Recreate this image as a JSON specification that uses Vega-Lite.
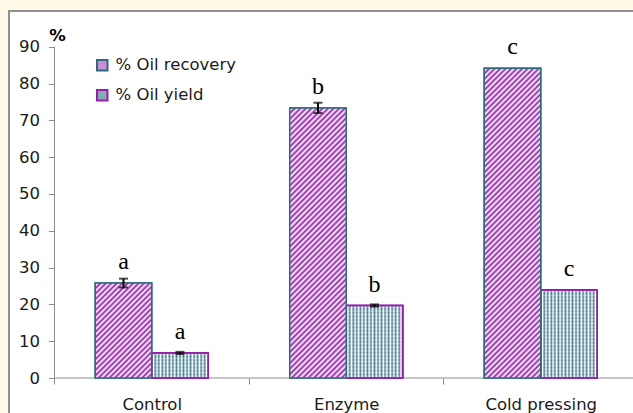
{
  "$schema": "https://vega.github.io/schema/vega-lite/v6.json",
  "width": 640,
  "height": 420,
  "autosize": {"type": "none"},
  "padding": {"left": 9, "top": 11, "right": 0, "bottom": 0},
  "background": "#fffae8",
  "view": {"fill": "#ffffff", "stroke": "#8f8f8f", "strokeWidth": 2},
  "data": {
    "values": [
      {"treatment": "Control", "measure": "% Oil recovery", "value": 25.8, "sd": 1.2, "letter": "a"},
      {"treatment": "Control", "measure": "% Oil yield", "value": 6.8, "sd": 0.3, "letter": "a"},
      {"treatment": "Enzyme", "measure": "% Oil recovery", "value": 73.4, "sd": 1.4, "letter": "b"},
      {"treatment": "Enzyme", "measure": "% Oil yield", "value": 19.7, "sd": 0.3, "letter": "b"},
      {"treatment": "Cold pressing", "measure": "% Oil recovery", "value": 84.2, "sd": 0, "letter": "c"},
      {"treatment": "Cold pressing", "measure": "% Oil yield", "value": 23.9, "sd": 0, "letter": "c"}
    ]
  },
  "layer": [
    {
      "mark": {"type": "bar", "strokeWidth": 1.5},
      "encoding": {
        "x": {
          "field": "treatment",
          "type": "nominal",
          "title": null,
          "scale": {"domain": ["Control", "Enzyme", "Cold pressing"], "paddingInner": 0, "paddingOuter": 0.14524, "align": 0.805},
          "axis": {"title": null, "offset": -53, "domain": false, "tickBand": "extent", "tickSize": 6, "tickColor": "#8c8c8c", "labelAngle": 0, "labelFont": "DejaVu Sans", "labelFontSize": 16.5, "labelColor": "#1a1a1a", "labelPadding": 12}
        },
        "y": {
          "field": "value",
          "type": "quantitative",
          "title": "%",
          "scale": {"domain": [-14.402, 99.728], "nice": false, "zero": false},
          "axis": {"title": "%", "titleAngle": 0, "titleX": 2.5, "titleY": 24, "titleAlign": "center", "titleBaseline": "middle", "titleFont": "DejaVu Sans", "titleFontSize": 16.5, "titleFontWeight": "bold", "titleColor": "#000000", "values": [0, 10, 20, 30, 40, 50, 60, 70, 80, 90], "offset": -45.5, "domain": false, "grid": false, "tickSize": 6, "tickColor": "#8c8c8c", "labelFont": "DejaVu Sans", "labelFontSize": 16.5, "labelColor": "#1a1a1a", "labelPadding": 9}
        },
        "xOffset": {"field": "measure", "type": "nominal", "scale": {"domain": ["% Oil recovery", "% Oil yield"], "paddingInner": 0, "paddingOuter": 0.7212}},
        "y2": {"datum": 0},
        "fill": {
          "field": "measure",
          "type": "nominal",
          "scale": {"domain": ["% Oil recovery", "% Oil yield"], "range": ["#ca8ed4", "#86a9b4"]},
          "legend": {"orient": "none", "legendX": 85, "legendY": 46, "title": null, "symbolType": "square", "symbolSize": 110, "symbolStrokeWidth": 2, "labelFont": "DejaVu Sans", "labelFontSize": 16.5, "labelColor": "#1a1a1a", "rowPadding": 11, "labelOffset": 5, "padding": 0}
        },
        "stroke": {
          "field": "measure",
          "type": "nominal",
          "scale": {"domain": ["% Oil recovery", "% Oil yield"], "range": ["#2d6b7c", "#961eaa"]}
        }
      }
    },
    {
      "transform": [{"filter": "datum.treatment === 'Control' && datum.measure === '% Oil recovery'"}],
      "mark": {"type": "rule", "color": "#8c8c8c", "strokeWidth": 1},
      "encoding": {
        "x": {"field": "treatment", "type": "nominal", "title": null, "bandPosition": 0},
        "x2": {"value": "width"},
        "y": {"datum": 0, "type": "quantitative", "title": "%"}
      }
    },
    {
      "transform": [{"filter": "datum.treatment === 'Control' && datum.measure === '% Oil recovery'"}],
      "mark": {"type": "rule", "color": "#8c8c8c", "strokeWidth": 1},
      "encoding": {
        "x": {"field": "treatment", "type": "nominal", "title": null, "bandPosition": 0},
        "y": {"datum": 0, "type": "quantitative", "title": "%"},
        "y2": {"datum": 90}
      }
    },
    {
      "transform": [{"filter": "datum.measure === '% Oil yield'"}],
      "mark": {
        "type": "bar",
        "stroke": "#961eaa",
        "strokeWidth": 1.5,
        "fill": {
          "gradient": "linear", "x1": 0, "y1": 0, "x2": 1, "y2": 0,
          "stops": [
            {"offset": 0, "color": "#2b6a80"}, {"offset": 0.03125, "color": "#ffffff"}, {"offset": 0.0625, "color": "#2b6a80"}, {"offset": 0.09375, "color": "#ffffff"},
            {"offset": 0.125, "color": "#2b6a80"}, {"offset": 0.15625, "color": "#ffffff"}, {"offset": 0.1875, "color": "#2b6a80"}, {"offset": 0.21875, "color": "#ffffff"},
            {"offset": 0.25, "color": "#2b6a80"}, {"offset": 0.28125, "color": "#ffffff"}, {"offset": 0.3125, "color": "#2b6a80"}, {"offset": 0.34375, "color": "#ffffff"},
            {"offset": 0.375, "color": "#2b6a80"}, {"offset": 0.40625, "color": "#ffffff"}, {"offset": 0.4375, "color": "#2b6a80"}, {"offset": 0.46875, "color": "#ffffff"},
            {"offset": 0.5, "color": "#2b6a80"}, {"offset": 0.53125, "color": "#ffffff"}, {"offset": 0.5625, "color": "#2b6a80"}, {"offset": 0.59375, "color": "#ffffff"},
            {"offset": 0.625, "color": "#2b6a80"}, {"offset": 0.65625, "color": "#ffffff"}, {"offset": 0.6875, "color": "#2b6a80"}, {"offset": 0.71875, "color": "#ffffff"},
            {"offset": 0.75, "color": "#2b6a80"}, {"offset": 0.78125, "color": "#ffffff"}, {"offset": 0.8125, "color": "#2b6a80"}, {"offset": 0.84375, "color": "#ffffff"},
            {"offset": 0.875, "color": "#2b6a80"}, {"offset": 0.90625, "color": "#ffffff"}, {"offset": 0.9375, "color": "#2b6a80"}, {"offset": 0.96875, "color": "#ffffff"},
            {"offset": 1, "color": "#2b6a80"}
          ]
        }
      },
      "encoding": {
        "x": {"field": "treatment", "type": "nominal", "title": null},
        "y": {"field": "value", "type": "quantitative", "title": "%"},
        "xOffset": {"field": "measure", "type": "nominal"},
        "y2": {"datum": 0}
      }
    },
    {
      "transform": [{"filter": "datum.treatment === 'Control' && datum.measure === '% Oil yield'"}],
      "mark": {
        "type": "bar",
        "stroke": "#961eaa",
        "strokeWidth": 1.5,
        "fill": {
          "gradient": "linear", "x1": 0, "y1": 0, "x2": 0, "y2": 1,
          "stops": [
            {"offset": 0, "color": "rgba(255,255,255,0)"}, {"offset": 0.0714, "color": "rgba(255,255,255,0.35)"}, {"offset": 0.1429, "color": "rgba(255,255,255,0)"}, {"offset": 0.2143, "color": "rgba(255,255,255,0.35)"},
            {"offset": 0.2857, "color": "rgba(255,255,255,0)"}, {"offset": 0.3571, "color": "rgba(255,255,255,0.35)"}, {"offset": 0.4286, "color": "rgba(255,255,255,0)"}, {"offset": 0.5, "color": "rgba(255,255,255,0.35)"},
            {"offset": 0.5714, "color": "rgba(255,255,255,0)"}, {"offset": 0.6429, "color": "rgba(255,255,255,0.35)"}, {"offset": 0.7143, "color": "rgba(255,255,255,0)"}, {"offset": 0.7857, "color": "rgba(255,255,255,0.35)"},
            {"offset": 0.8571, "color": "rgba(255,255,255,0)"}, {"offset": 0.9286, "color": "rgba(255,255,255,0.35)"}, {"offset": 1, "color": "rgba(255,255,255,0)"}
          ]
        }
      },
      "encoding": {
        "x": {"field": "treatment", "type": "nominal", "title": null},
        "y": {"field": "value", "type": "quantitative", "title": "%"},
        "xOffset": {"field": "measure", "type": "nominal"},
        "y2": {"datum": 0}
      }
    },
    {
      "transform": [{"filter": "datum.treatment === 'Enzyme' && datum.measure === '% Oil yield'"}],
      "mark": {
        "type": "bar",
        "stroke": "#961eaa",
        "strokeWidth": 1.5,
        "fill": {
          "gradient": "linear", "x1": 0, "y1": 0, "x2": 0, "y2": 1,
          "stops": [
            {"offset": 0, "color": "rgba(255,255,255,0)"}, {"offset": 0.025, "color": "rgba(255,255,255,0.35)"}, {"offset": 0.05, "color": "rgba(255,255,255,0)"}, {"offset": 0.075, "color": "rgba(255,255,255,0.35)"},
            {"offset": 0.1, "color": "rgba(255,255,255,0)"}, {"offset": 0.125, "color": "rgba(255,255,255,0.35)"}, {"offset": 0.15, "color": "rgba(255,255,255,0)"}, {"offset": 0.175, "color": "rgba(255,255,255,0.35)"},
            {"offset": 0.2, "color": "rgba(255,255,255,0)"}, {"offset": 0.225, "color": "rgba(255,255,255,0.35)"}, {"offset": 0.25, "color": "rgba(255,255,255,0)"}, {"offset": 0.275, "color": "rgba(255,255,255,0.35)"},
            {"offset": 0.3, "color": "rgba(255,255,255,0)"}, {"offset": 0.325, "color": "rgba(255,255,255,0.35)"}, {"offset": 0.35, "color": "rgba(255,255,255,0)"}, {"offset": 0.375, "color": "rgba(255,255,255,0.35)"},
            {"offset": 0.4, "color": "rgba(255,255,255,0)"}, {"offset": 0.425, "color": "rgba(255,255,255,0.35)"}, {"offset": 0.45, "color": "rgba(255,255,255,0)"}, {"offset": 0.475, "color": "rgba(255,255,255,0.35)"},
            {"offset": 0.5, "color": "rgba(255,255,255,0)"}, {"offset": 0.525, "color": "rgba(255,255,255,0.35)"}, {"offset": 0.55, "color": "rgba(255,255,255,0)"}, {"offset": 0.575, "color": "rgba(255,255,255,0.35)"},
            {"offset": 0.6, "color": "rgba(255,255,255,0)"}, {"offset": 0.625, "color": "rgba(255,255,255,0.35)"}, {"offset": 0.65, "color": "rgba(255,255,255,0)"}, {"offset": 0.675, "color": "rgba(255,255,255,0.35)"},
            {"offset": 0.7, "color": "rgba(255,255,255,0)"}, {"offset": 0.725, "color": "rgba(255,255,255,0.35)"}, {"offset": 0.75, "color": "rgba(255,255,255,0)"}, {"offset": 0.775, "color": "rgba(255,255,255,0.35)"},
            {"offset": 0.8, "color": "rgba(255,255,255,0)"}, {"offset": 0.825, "color": "rgba(255,255,255,0.35)"}, {"offset": 0.85, "color": "rgba(255,255,255,0)"}, {"offset": 0.875, "color": "rgba(255,255,255,0.35)"},
            {"offset": 0.9, "color": "rgba(255,255,255,0)"}, {"offset": 0.925, "color": "rgba(255,255,255,0.35)"}, {"offset": 0.95, "color": "rgba(255,255,255,0)"}, {"offset": 0.975, "color": "rgba(255,255,255,0.35)"},
            {"offset": 1, "color": "rgba(255,255,255,0)"}
          ]
        }
      },
      "encoding": {
        "x": {"field": "treatment", "type": "nominal", "title": null},
        "y": {"field": "value", "type": "quantitative", "title": "%"},
        "xOffset": {"field": "measure", "type": "nominal"},
        "y2": {"datum": 0}
      }
    },
    {
      "transform": [{"filter": "datum.treatment === 'Cold pressing' && datum.measure === '% Oil yield'"}],
      "mark": {
        "type": "bar",
        "stroke": "#961eaa",
        "strokeWidth": 1.5,
        "fill": {
          "gradient": "linear", "x1": 0, "y1": 0, "x2": 0, "y2": 1,
          "stops": [
            {"offset": 0, "color": "rgba(255,255,255,0)"}, {"offset": 0.02, "color": "rgba(255,255,255,0.35)"}, {"offset": 0.04, "color": "rgba(255,255,255,0)"}, {"offset": 0.06, "color": "rgba(255,255,255,0.35)"},
            {"offset": 0.08, "color": "rgba(255,255,255,0)"}, {"offset": 0.1, "color": "rgba(255,255,255,0.35)"}, {"offset": 0.12, "color": "rgba(255,255,255,0)"}, {"offset": 0.14, "color": "rgba(255,255,255,0.35)"},
            {"offset": 0.16, "color": "rgba(255,255,255,0)"}, {"offset": 0.18, "color": "rgba(255,255,255,0.35)"}, {"offset": 0.2, "color": "rgba(255,255,255,0)"}, {"offset": 0.22, "color": "rgba(255,255,255,0.35)"},
            {"offset": 0.24, "color": "rgba(255,255,255,0)"}, {"offset": 0.26, "color": "rgba(255,255,255,0.35)"}, {"offset": 0.28, "color": "rgba(255,255,255,0)"}, {"offset": 0.3, "color": "rgba(255,255,255,0.35)"},
            {"offset": 0.32, "color": "rgba(255,255,255,0)"}, {"offset": 0.34, "color": "rgba(255,255,255,0.35)"}, {"offset": 0.36, "color": "rgba(255,255,255,0)"}, {"offset": 0.38, "color": "rgba(255,255,255,0.35)"},
            {"offset": 0.4, "color": "rgba(255,255,255,0)"}, {"offset": 0.42, "color": "rgba(255,255,255,0.35)"}, {"offset": 0.44, "color": "rgba(255,255,255,0)"}, {"offset": 0.46, "color": "rgba(255,255,255,0.35)"},
            {"offset": 0.48, "color": "rgba(255,255,255,0)"}, {"offset": 0.5, "color": "rgba(255,255,255,0.35)"}, {"offset": 0.52, "color": "rgba(255,255,255,0)"}, {"offset": 0.54, "color": "rgba(255,255,255,0.35)"},
            {"offset": 0.56, "color": "rgba(255,255,255,0)"}, {"offset": 0.58, "color": "rgba(255,255,255,0.35)"}, {"offset": 0.6, "color": "rgba(255,255,255,0)"}, {"offset": 0.62, "color": "rgba(255,255,255,0.35)"},
            {"offset": 0.64, "color": "rgba(255,255,255,0)"}, {"offset": 0.66, "color": "rgba(255,255,255,0.35)"}, {"offset": 0.68, "color": "rgba(255,255,255,0)"}, {"offset": 0.7, "color": "rgba(255,255,255,0.35)"},
            {"offset": 0.72, "color": "rgba(255,255,255,0)"}, {"offset": 0.74, "color": "rgba(255,255,255,0.35)"}, {"offset": 0.76, "color": "rgba(255,255,255,0)"}, {"offset": 0.78, "color": "rgba(255,255,255,0.35)"},
            {"offset": 0.8, "color": "rgba(255,255,255,0)"}, {"offset": 0.82, "color": "rgba(255,255,255,0.35)"}, {"offset": 0.84, "color": "rgba(255,255,255,0)"}, {"offset": 0.86, "color": "rgba(255,255,255,0.35)"},
            {"offset": 0.88, "color": "rgba(255,255,255,0)"}, {"offset": 0.9, "color": "rgba(255,255,255,0.35)"}, {"offset": 0.92, "color": "rgba(255,255,255,0)"}, {"offset": 0.94, "color": "rgba(255,255,255,0.35)"},
            {"offset": 0.96, "color": "rgba(255,255,255,0)"}, {"offset": 0.98, "color": "rgba(255,255,255,0.35)"}, {"offset": 1, "color": "rgba(255,255,255,0)"}
          ]
        }
      },
      "encoding": {
        "x": {"field": "treatment", "type": "nominal", "title": null},
        "y": {"field": "value", "type": "quantitative", "title": "%"},
        "xOffset": {"field": "measure", "type": "nominal"},
        "y2": {"datum": 0}
      }
    },
    {
      "transform": [{"filter": "datum.treatment === 'Control' && datum.measure === '% Oil recovery'"}],
      "mark": {
        "type": "bar",
        "stroke": "#2d6b7c",
        "strokeWidth": 1.5,
        "fill": {
          "gradient": "linear", "x1": 0, "y1": 0, "x2": 0.701, "y2": 1.1779,
          "stops": [
            {"offset": 0, "color": "#961eaa"}, {"offset": 0.018, "color": "#ffffff"}, {"offset": 0.036, "color": "#961eaa"}, {"offset": 0.054, "color": "#ffffff"},
            {"offset": 0.072, "color": "#961eaa"}, {"offset": 0.09, "color": "#ffffff"}, {"offset": 0.108, "color": "#961eaa"}, {"offset": 0.126, "color": "#ffffff"},
            {"offset": 0.144, "color": "#961eaa"}, {"offset": 0.162, "color": "#ffffff"}, {"offset": 0.18, "color": "#961eaa"}, {"offset": 0.198, "color": "#ffffff"},
            {"offset": 0.216, "color": "#961eaa"}, {"offset": 0.234, "color": "#ffffff"}, {"offset": 0.252, "color": "#961eaa"}, {"offset": 0.27, "color": "#ffffff"},
            {"offset": 0.288, "color": "#961eaa"}, {"offset": 0.306, "color": "#ffffff"}, {"offset": 0.324, "color": "#961eaa"}, {"offset": 0.342, "color": "#ffffff"},
            {"offset": 0.36, "color": "#961eaa"}, {"offset": 0.378, "color": "#ffffff"}, {"offset": 0.396, "color": "#961eaa"}, {"offset": 0.414, "color": "#ffffff"},
            {"offset": 0.432, "color": "#961eaa"}, {"offset": 0.45, "color": "#ffffff"}, {"offset": 0.468, "color": "#961eaa"}, {"offset": 0.486, "color": "#ffffff"},
            {"offset": 0.504, "color": "#961eaa"}, {"offset": 0.522, "color": "#ffffff"}, {"offset": 0.54, "color": "#961eaa"}, {"offset": 0.558, "color": "#ffffff"},
            {"offset": 0.576, "color": "#961eaa"}, {"offset": 0.594, "color": "#ffffff"}, {"offset": 0.612, "color": "#961eaa"}, {"offset": 0.63, "color": "#ffffff"},
            {"offset": 0.648, "color": "#961eaa"}, {"offset": 0.666, "color": "#ffffff"}, {"offset": 0.684, "color": "#961eaa"}, {"offset": 0.702, "color": "#ffffff"},
            {"offset": 0.72, "color": "#961eaa"}, {"offset": 0.738, "color": "#ffffff"}, {"offset": 0.756, "color": "#961eaa"}, {"offset": 0.774, "color": "#ffffff"},
            {"offset": 0.792, "color": "#961eaa"}, {"offset": 0.81, "color": "#ffffff"}, {"offset": 0.828, "color": "#961eaa"}, {"offset": 0.846, "color": "#ffffff"},
            {"offset": 0.864, "color": "#961eaa"}, {"offset": 0.882, "color": "#ffffff"}, {"offset": 0.9, "color": "#961eaa"}, {"offset": 0.918, "color": "#ffffff"},
            {"offset": 0.936, "color": "#961eaa"}, {"offset": 0.954, "color": "#ffffff"}, {"offset": 0.972, "color": "#961eaa"}, {"offset": 0.99, "color": "#ffffff"}
          ]
        }
      },
      "encoding": {
        "x": {"field": "treatment", "type": "nominal", "title": null},
        "y": {"field": "value", "type": "quantitative", "title": "%"},
        "xOffset": {"field": "measure", "type": "nominal"},
        "y2": {"datum": 0}
      }
    },
    {
      "transform": [{"filter": "datum.treatment === 'Enzyme' && datum.measure === '% Oil recovery'"}],
      "mark": {
        "type": "bar",
        "stroke": "#2d6b7c",
        "strokeWidth": 1.5,
        "fill": {
          "gradient": "linear", "x1": 0, "y1": 0, "x2": 0.2423, "y2": 1.1585,
          "stops": [
            {"offset": 0, "color": "#961eaa"}, {"offset": 0.0085, "color": "#ffffff"}, {"offset": 0.017, "color": "#961eaa"}, {"offset": 0.0255, "color": "#ffffff"},
            {"offset": 0.034, "color": "#961eaa"}, {"offset": 0.0425, "color": "#ffffff"}, {"offset": 0.051, "color": "#961eaa"}, {"offset": 0.0595, "color": "#ffffff"},
            {"offset": 0.068, "color": "#961eaa"}, {"offset": 0.0765, "color": "#ffffff"}, {"offset": 0.085, "color": "#961eaa"}, {"offset": 0.0935, "color": "#ffffff"},
            {"offset": 0.102, "color": "#961eaa"}, {"offset": 0.1105, "color": "#ffffff"}, {"offset": 0.119, "color": "#961eaa"}, {"offset": 0.1275, "color": "#ffffff"},
            {"offset": 0.136, "color": "#961eaa"}, {"offset": 0.1445, "color": "#ffffff"}, {"offset": 0.153, "color": "#961eaa"}, {"offset": 0.1615, "color": "#ffffff"},
            {"offset": 0.17, "color": "#961eaa"}, {"offset": 0.1785, "color": "#ffffff"}, {"offset": 0.187, "color": "#961eaa"}, {"offset": 0.1955, "color": "#ffffff"},
            {"offset": 0.204, "color": "#961eaa"}, {"offset": 0.2125, "color": "#ffffff"}, {"offset": 0.221, "color": "#961eaa"}, {"offset": 0.2295, "color": "#ffffff"},
            {"offset": 0.238, "color": "#961eaa"}, {"offset": 0.2465, "color": "#ffffff"}, {"offset": 0.255, "color": "#961eaa"}, {"offset": 0.2635, "color": "#ffffff"},
            {"offset": 0.272, "color": "#961eaa"}, {"offset": 0.2805, "color": "#ffffff"}, {"offset": 0.289, "color": "#961eaa"}, {"offset": 0.2975, "color": "#ffffff"},
            {"offset": 0.306, "color": "#961eaa"}, {"offset": 0.3145, "color": "#ffffff"}, {"offset": 0.323, "color": "#961eaa"}, {"offset": 0.3315, "color": "#ffffff"},
            {"offset": 0.34, "color": "#961eaa"}, {"offset": 0.3485, "color": "#ffffff"}, {"offset": 0.357, "color": "#961eaa"}, {"offset": 0.3655, "color": "#ffffff"},
            {"offset": 0.374, "color": "#961eaa"}, {"offset": 0.3825, "color": "#ffffff"}, {"offset": 0.391, "color": "#961eaa"}, {"offset": 0.3995, "color": "#ffffff"},
            {"offset": 0.408, "color": "#961eaa"}, {"offset": 0.4165, "color": "#ffffff"}, {"offset": 0.425, "color": "#961eaa"}, {"offset": 0.4335, "color": "#ffffff"},
            {"offset": 0.442, "color": "#961eaa"}, {"offset": 0.4505, "color": "#ffffff"}, {"offset": 0.459, "color": "#961eaa"}, {"offset": 0.4675, "color": "#ffffff"},
            {"offset": 0.476, "color": "#961eaa"}, {"offset": 0.4845, "color": "#ffffff"}, {"offset": 0.493, "color": "#961eaa"}, {"offset": 0.5015, "color": "#ffffff"},
            {"offset": 0.51, "color": "#961eaa"}, {"offset": 0.5185, "color": "#ffffff"}, {"offset": 0.527, "color": "#961eaa"}, {"offset": 0.5355, "color": "#ffffff"},
            {"offset": 0.544, "color": "#961eaa"}, {"offset": 0.5525, "color": "#ffffff"}, {"offset": 0.561, "color": "#961eaa"}, {"offset": 0.5695, "color": "#ffffff"},
            {"offset": 0.578, "color": "#961eaa"}, {"offset": 0.5865, "color": "#ffffff"}, {"offset": 0.595, "color": "#961eaa"}, {"offset": 0.6035, "color": "#ffffff"},
            {"offset": 0.612, "color": "#961eaa"}, {"offset": 0.6205, "color": "#ffffff"}, {"offset": 0.629, "color": "#961eaa"}, {"offset": 0.6375, "color": "#ffffff"},
            {"offset": 0.646, "color": "#961eaa"}, {"offset": 0.6545, "color": "#ffffff"}, {"offset": 0.663, "color": "#961eaa"}, {"offset": 0.6715, "color": "#ffffff"},
            {"offset": 0.68, "color": "#961eaa"}, {"offset": 0.6885, "color": "#ffffff"}, {"offset": 0.697, "color": "#961eaa"}, {"offset": 0.7055, "color": "#ffffff"},
            {"offset": 0.714, "color": "#961eaa"}, {"offset": 0.7225, "color": "#ffffff"}, {"offset": 0.731, "color": "#961eaa"}, {"offset": 0.7395, "color": "#ffffff"},
            {"offset": 0.748, "color": "#961eaa"}, {"offset": 0.7565, "color": "#ffffff"}, {"offset": 0.765, "color": "#961eaa"}, {"offset": 0.7735, "color": "#ffffff"},
            {"offset": 0.782, "color": "#961eaa"}, {"offset": 0.7905, "color": "#ffffff"}, {"offset": 0.799, "color": "#961eaa"}, {"offset": 0.8075, "color": "#ffffff"},
            {"offset": 0.816, "color": "#961eaa"}, {"offset": 0.8245, "color": "#ffffff"}, {"offset": 0.833, "color": "#961eaa"}, {"offset": 0.8415, "color": "#ffffff"},
            {"offset": 0.85, "color": "#961eaa"}, {"offset": 0.8585, "color": "#ffffff"}, {"offset": 0.867, "color": "#961eaa"}, {"offset": 0.8755, "color": "#ffffff"},
            {"offset": 0.884, "color": "#961eaa"}, {"offset": 0.8925, "color": "#ffffff"}, {"offset": 0.901, "color": "#961eaa"}, {"offset": 0.9095, "color": "#ffffff"},
            {"offset": 0.918, "color": "#961eaa"}, {"offset": 0.9265, "color": "#ffffff"}, {"offset": 0.935, "color": "#961eaa"}, {"offset": 0.9435, "color": "#ffffff"},
            {"offset": 0.952, "color": "#961eaa"}, {"offset": 0.9605, "color": "#ffffff"}, {"offset": 0.969, "color": "#961eaa"}, {"offset": 0.9775, "color": "#ffffff"},
            {"offset": 0.986, "color": "#961eaa"}, {"offset": 0.9945, "color": "#ffffff"}
          ]
        }
      },
      "encoding": {
        "x": {"field": "treatment", "type": "nominal", "title": null},
        "y": {"field": "value", "type": "quantitative", "title": "%"},
        "xOffset": {"field": "measure", "type": "nominal"},
        "y2": {"datum": 0}
      }
    },
    {
      "transform": [{"filter": "datum.treatment === 'Cold pressing' && datum.measure === '% Oil recovery'"}],
      "mark": {
        "type": "bar",
        "stroke": "#2d6b7c",
        "strokeWidth": 1.5,
        "fill": {
          "gradient": "linear", "x1": 0, "y1": 0, "x2": 0.2087, "y2": 1.1443,
          "stops": [
            {"offset": 0, "color": "#961eaa"}, {"offset": 0.0075, "color": "#ffffff"}, {"offset": 0.015, "color": "#961eaa"}, {"offset": 0.0225, "color": "#ffffff"},
            {"offset": 0.03, "color": "#961eaa"}, {"offset": 0.0375, "color": "#ffffff"}, {"offset": 0.045, "color": "#961eaa"}, {"offset": 0.0525, "color": "#ffffff"},
            {"offset": 0.06, "color": "#961eaa"}, {"offset": 0.0675, "color": "#ffffff"}, {"offset": 0.075, "color": "#961eaa"}, {"offset": 0.0825, "color": "#ffffff"},
            {"offset": 0.09, "color": "#961eaa"}, {"offset": 0.0975, "color": "#ffffff"}, {"offset": 0.105, "color": "#961eaa"}, {"offset": 0.1125, "color": "#ffffff"},
            {"offset": 0.12, "color": "#961eaa"}, {"offset": 0.1275, "color": "#ffffff"}, {"offset": 0.135, "color": "#961eaa"}, {"offset": 0.1425, "color": "#ffffff"},
            {"offset": 0.15, "color": "#961eaa"}, {"offset": 0.1575, "color": "#ffffff"}, {"offset": 0.165, "color": "#961eaa"}, {"offset": 0.1725, "color": "#ffffff"},
            {"offset": 0.18, "color": "#961eaa"}, {"offset": 0.1875, "color": "#ffffff"}, {"offset": 0.195, "color": "#961eaa"}, {"offset": 0.2025, "color": "#ffffff"},
            {"offset": 0.21, "color": "#961eaa"}, {"offset": 0.2175, "color": "#ffffff"}, {"offset": 0.225, "color": "#961eaa"}, {"offset": 0.2325, "color": "#ffffff"},
            {"offset": 0.24, "color": "#961eaa"}, {"offset": 0.2475, "color": "#ffffff"}, {"offset": 0.255, "color": "#961eaa"}, {"offset": 0.2625, "color": "#ffffff"},
            {"offset": 0.27, "color": "#961eaa"}, {"offset": 0.2775, "color": "#ffffff"}, {"offset": 0.285, "color": "#961eaa"}, {"offset": 0.2925, "color": "#ffffff"},
            {"offset": 0.3, "color": "#961eaa"}, {"offset": 0.3075, "color": "#ffffff"}, {"offset": 0.315, "color": "#961eaa"}, {"offset": 0.3225, "color": "#ffffff"},
            {"offset": 0.33, "color": "#961eaa"}, {"offset": 0.3375, "color": "#ffffff"}, {"offset": 0.345, "color": "#961eaa"}, {"offset": 0.3525, "color": "#ffffff"},
            {"offset": 0.36, "color": "#961eaa"}, {"offset": 0.3675, "color": "#ffffff"}, {"offset": 0.375, "color": "#961eaa"}, {"offset": 0.3825, "color": "#ffffff"},
            {"offset": 0.39, "color": "#961eaa"}, {"offset": 0.3975, "color": "#ffffff"}, {"offset": 0.405, "color": "#961eaa"}, {"offset": 0.4125, "color": "#ffffff"},
            {"offset": 0.42, "color": "#961eaa"}, {"offset": 0.4275, "color": "#ffffff"}, {"offset": 0.435, "color": "#961eaa"}, {"offset": 0.4425, "color": "#ffffff"},
            {"offset": 0.45, "color": "#961eaa"}, {"offset": 0.4575, "color": "#ffffff"}, {"offset": 0.465, "color": "#961eaa"}, {"offset": 0.4725, "color": "#ffffff"},
            {"offset": 0.48, "color": "#961eaa"}, {"offset": 0.4875, "color": "#ffffff"}, {"offset": 0.495, "color": "#961eaa"}, {"offset": 0.5025, "color": "#ffffff"},
            {"offset": 0.51, "color": "#961eaa"}, {"offset": 0.5175, "color": "#ffffff"}, {"offset": 0.525, "color": "#961eaa"}, {"offset": 0.5325, "color": "#ffffff"},
            {"offset": 0.54, "color": "#961eaa"}, {"offset": 0.5475, "color": "#ffffff"}, {"offset": 0.555, "color": "#961eaa"}, {"offset": 0.5625, "color": "#ffffff"},
            {"offset": 0.57, "color": "#961eaa"}, {"offset": 0.5775, "color": "#ffffff"}, {"offset": 0.585, "color": "#961eaa"}, {"offset": 0.5925, "color": "#ffffff"},
            {"offset": 0.6, "color": "#961eaa"}, {"offset": 0.6075, "color": "#ffffff"}, {"offset": 0.615, "color": "#961eaa"}, {"offset": 0.6225, "color": "#ffffff"},
            {"offset": 0.63, "color": "#961eaa"}, {"offset": 0.6375, "color": "#ffffff"}, {"offset": 0.645, "color": "#961eaa"}, {"offset": 0.6525, "color": "#ffffff"},
            {"offset": 0.66, "color": "#961eaa"}, {"offset": 0.6675, "color": "#ffffff"}, {"offset": 0.675, "color": "#961eaa"}, {"offset": 0.6825, "color": "#ffffff"},
            {"offset": 0.69, "color": "#961eaa"}, {"offset": 0.6975, "color": "#ffffff"}, {"offset": 0.705, "color": "#961eaa"}, {"offset": 0.7125, "color": "#ffffff"},
            {"offset": 0.72, "color": "#961eaa"}, {"offset": 0.7275, "color": "#ffffff"}, {"offset": 0.735, "color": "#961eaa"}, {"offset": 0.7425, "color": "#ffffff"},
            {"offset": 0.75, "color": "#961eaa"}, {"offset": 0.7575, "color": "#ffffff"}, {"offset": 0.765, "color": "#961eaa"}, {"offset": 0.7725, "color": "#ffffff"},
            {"offset": 0.78, "color": "#961eaa"}, {"offset": 0.7875, "color": "#ffffff"}, {"offset": 0.795, "color": "#961eaa"}, {"offset": 0.8025, "color": "#ffffff"},
            {"offset": 0.81, "color": "#961eaa"}, {"offset": 0.8175, "color": "#ffffff"}, {"offset": 0.825, "color": "#961eaa"}, {"offset": 0.8325, "color": "#ffffff"},
            {"offset": 0.84, "color": "#961eaa"}, {"offset": 0.8475, "color": "#ffffff"}, {"offset": 0.855, "color": "#961eaa"}, {"offset": 0.8625, "color": "#ffffff"},
            {"offset": 0.87, "color": "#961eaa"}, {"offset": 0.8775, "color": "#ffffff"}, {"offset": 0.885, "color": "#961eaa"}, {"offset": 0.8925, "color": "#ffffff"},
            {"offset": 0.9, "color": "#961eaa"}, {"offset": 0.9075, "color": "#ffffff"}, {"offset": 0.915, "color": "#961eaa"}, {"offset": 0.9225, "color": "#ffffff"},
            {"offset": 0.93, "color": "#961eaa"}, {"offset": 0.9375, "color": "#ffffff"}, {"offset": 0.945, "color": "#961eaa"}, {"offset": 0.9525, "color": "#ffffff"},
            {"offset": 0.96, "color": "#961eaa"}, {"offset": 0.9675, "color": "#ffffff"}, {"offset": 0.975, "color": "#961eaa"}, {"offset": 0.9825, "color": "#ffffff"},
            {"offset": 0.99, "color": "#961eaa"}, {"offset": 0.9975, "color": "#ffffff"}
          ]
        }
      },
      "encoding": {
        "x": {"field": "treatment", "type": "nominal", "title": null},
        "y": {"field": "value", "type": "quantitative", "title": "%"},
        "xOffset": {"field": "measure", "type": "nominal"},
        "y2": {"datum": 0}
      }
    },
    {
      "transform": [{"filter": "datum.sd > 0"}],
      "mark": {
        "type": "errorbar",
        "ticks": {"size": 9, "thickness": 2, "color": "#000000"},
        "rule": {"strokeWidth": 2, "color": "#000000"}
      },
      "encoding": {
        "x": {"field": "treatment", "type": "nominal", "title": null},
        "y": {"field": "value", "type": "quantitative", "title": "%"},
        "xOffset": {"field": "measure", "type": "nominal"},
        "yError": {"field": "sd"}
      }
    },
    {
      "mark": {"type": "text", "font": "Liberation Serif", "fontSize": 24, "dy": -21, "baseline": "middle", "color": "#000000"},
      "encoding": {
        "x": {"field": "treatment", "type": "nominal", "title": null},
        "y": {"field": "value", "type": "quantitative", "title": "%"},
        "xOffset": {"field": "measure", "type": "nominal"},
        "text": {"field": "letter"}
      }
    }
  ]
}
